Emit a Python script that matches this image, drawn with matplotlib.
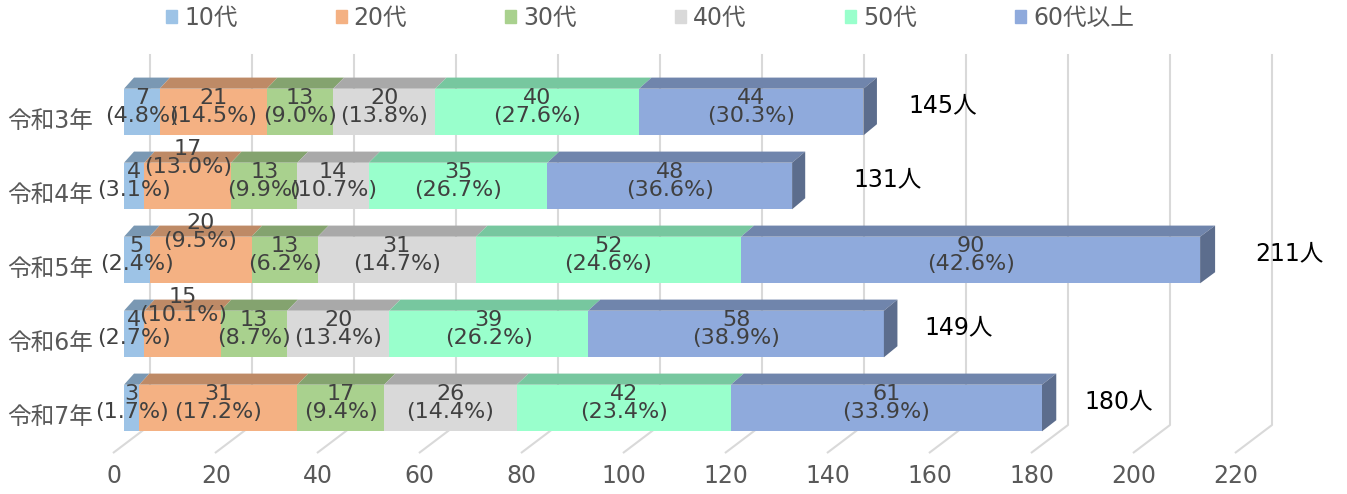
import numpy as np
import matplotlib
matplotlib.use("Agg")
import matplotlib.pyplot as plt
from matplotlib.patches import Polygon
from matplotlib.colors import to_rgb

plt.rcParams['font.family'] = ['DejaVu Sans', 'Noto Sans CJK JP']

# data
years = ['令和3年', '令和4年', '令和5年', '令和6年', '令和7年']
groups = ['10代', '20代', '30代', '40代', '50代', '60代以上']
counts = [
    [7, 21, 13, 20, 40, 44],
    [4, 17, 13, 14, 35, 48],
    [5, 20, 13, 31, 52, 90],
    [4, 15, 13, 20, 39, 58],
    [3, 31, 17, 26, 42, 61],
]
shares = [
    [4.8, 14.5, 9.0, 13.8, 27.6, 30.3],
    [3.1, 13.0, 9.9, 10.7, 26.7, 36.6],
    [2.4, 9.5, 6.2, 14.7, 24.6, 42.6],
    [2.7, 10.1, 8.7, 13.4, 26.2, 38.9],
    [1.7, 17.2, 9.4, 14.4, 23.4, 33.9],
]
totals = [145, 131, 211, 149, 180]
ticks = list(range(0, 221, 20))

colors = ['#9DC3E6', '#F4B183', '#A9D18E', '#D9D9D9', '#99FFCC', '#8FAADC']

# labels the author dragged around by hand
label_lift = {(1, 1): 0.31, (2, 1): 0.31, (3, 1): 0.31}
total_gap = [8.9, 12.0, 10.8, 8.0, 8.4]

PX = 5.1  # pixels per unit, used only for the 3d look


def shade(c, f):
    r, g, b = to_rgb(c)
    return (r * f, g * f, b * f)


def depth_dx(x):
    # slight perspective: the depth goes further right towards the right
    return (10 + 5 * x / 211) / PX


fig = plt.figure(figsize=(13.47, 4.94), dpi=100)
ax = fig.add_axes([0, 0, 1, 1])
ax.set_xlim(-124 / PX, (1347 - 124) / PX)
ax.set_ylim((494 - 112) / 74, -112 / 74)
ax.axis('off')

H = 0.63      # front face height
DY = 0.15     # depth offset along y
GX = 5.1      # back wall offset
FX = -2.0     # front floor offset

# walls / gridlines
for v in ticks:
    ax.plot([v + GX, v + GX, v + FX], [-0.77, 4.23, 4.6], color='#D9D9D9', lw=1.5, zorder=0)
    ax.text(v + FX, 4.92, str(v), ha='center', va='center', fontsize=17, color='#595959')

for i, row in enumerate(counts):
    left = 0
    top = i - H / 2
    for k, v in enumerate(row):
        ax.barh(i, v, left=left, height=H, color=colors[k], zorder=2)
        r = left + v
        ax.add_patch(Polygon([(left, top), (r, top), (r + depth_dx(r), top - DY),
                              (left + depth_dx(left), top - DY)],
                             closed=True, color=shade(colors[k], 0.78), zorder=2, lw=0))
        left = r
    # right side face of the last segment
    d = depth_dx(left)
    ax.add_patch(Polygon([(left, top), (left + d, top - DY), (left + d, top + H - DY), (left, top + H)],
                         closed=True, color=shade(colors[-1], 0.64), zorder=2, lw=0))

    left = 0
    for k, v in enumerate(row):
        y = i - 0.07 - label_lift.get((i, k), 0)
        ax.text(left + v / 2, y, f'{v}\n({shares[i][k]:.1f}%)', ha='center', va='center',
                fontsize=16, color='#404040', linespacing=0.85, zorder=3)
        left += v

    ax.text(totals[i] + total_gap[i], i - 0.09, f'{totals[i]}人', ha='left', va='center',
            fontsize=17, color='black')
    ax.text(-6.1, i + 0.12, years[i], ha='right', va='center', fontsize=17, color='#595959')

handles = [plt.Rectangle((0, 0), 1, 1, color=c) for c in colors]
fig.legend(handles, groups, loc='center', bbox_to_anchor=(0.4825, 0.964), ncol=6, frameon=False,
           fontsize=17, labelcolor='#595959', handlelength=0.47, handleheight=0.47,
           handletextpad=0.3, columnspacing=4.15)

fig.savefig('out.png', dpi=100)
